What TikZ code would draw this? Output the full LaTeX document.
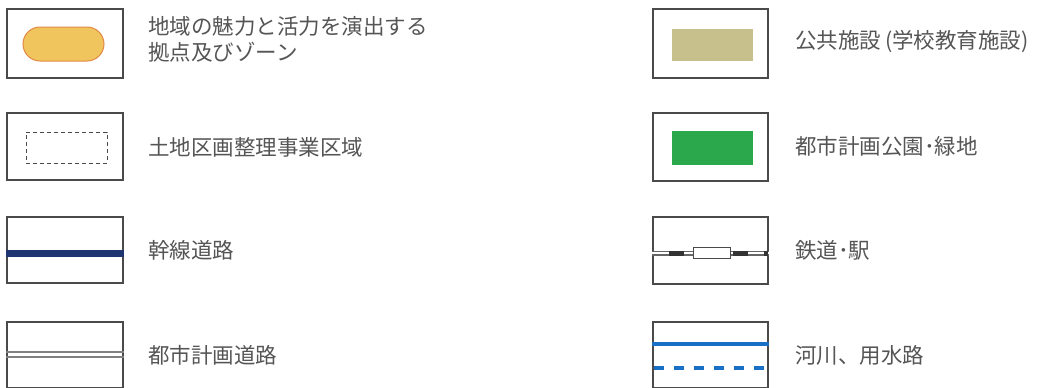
\documentclass[tikz,border=0pt]{standalone}
\usepackage{fontspec}
\setmainfont{Noto Sans CJK JP}
\definecolor{txt}{HTML}{555555}
\definecolor{frm}{HTML}{4A4A4A}
\definecolor{pillfill}{HTML}{F1C55E}
\definecolor{pilledge}{HTML}{E38A45}
\definecolor{navy}{HTML}{1F3571}
\definecolor{khaki}{HTML}{C8C08C}
\definecolor{park}{HTML}{2BA84C}
\definecolor{river}{HTML}{1A6FC6}
\definecolor{rail}{HTML}{333333}
\tikzset{
  frame/.style={draw=frm, line width=1.4pt, fill=white},
  label/.style={anchor=west, text=txt, font=\fontsize{21.5}{26}\selectfont, inner sep=0pt, align=left},
}
\begin{document}
\begin{tikzpicture}[x=1pt,y=-1pt]
\useasboundingbox (0,0) rectangle (1042,388);
\fill[white] (0,0) rectangle (1042,388);
% ---- left column
\node[frame, minimum width=116pt, minimum height=69pt, inner sep=0pt] (f1) at (65,43.5) {};
\node[draw=pilledge, line width=1pt, fill=pillfill, rounded corners=17pt, minimum width=81pt, minimum height=34pt, inner sep=0pt] (pill) at (63.5,44) {};
\node[label] (t1) at (148,39) {地域の魅力と活力を演出する\\拠点及びゾーン};

\node[frame, minimum width=116pt, minimum height=67pt, inner sep=0pt] (f2) at (65,146.5) {};
\node[draw=frm, line width=1pt, dash pattern=on 4pt off 3pt, minimum width=81pt, minimum height=31pt, inner sep=0pt] (zone) at (66.5,147.5) {};
\node[label] (t2) at (148,147) {土地区画整理事業区域};

\node[frame, minimum width=116pt, minimum height=66pt, inner sep=0pt] (f3) at (65,250) {};
\draw[navy, line width=7pt] ([yshift=-3pt]f3.west) -- ([yshift=-3pt]f3.east);
\node[label] (t3) at (148,250) {幹線道路};

\node[frame, minimum width=116pt, minimum height=66pt, inner sep=0pt] (f4) at (65,355) {};
\draw[gray, line width=1.2pt] ([yshift=3pt]f4.west) -- ([yshift=3pt]f4.east);
\draw[gray, line width=1.2pt] ([yshift=-2pt]f4.west) -- ([yshift=-2pt]f4.east);
\node[label] (t4) at (148,355) {都市計画道路};

% ---- right column
\node[frame, minimum width=115pt, minimum height=69pt, inner sep=0pt] (g1) at (710.5,43.5) {};
\node[fill=khaki, minimum width=81pt, minimum height=32pt, inner sep=0pt] (school) at (712.5,45) {};
\node[label] (u1) at (795,42) {公共施設\hspace{4pt}(学校教育施設)};

\node[frame, minimum width=115pt, minimum height=68pt, inner sep=0pt] (g2) at (710.5,147) {};
\node[fill=park, minimum width=81pt, minimum height=34pt, inner sep=0pt] (parkbox) at (712.5,148) {};
\node[label] (u2) at (795,146) {都市計画公園･緑地};

\node[frame, minimum width=115pt, minimum height=67pt, inner sep=0pt] (g3) at (710.5,250.5) {};
\coordinate (ra) at ([yshift=-2.5pt]g3.west);
\coordinate (rb) at ([yshift=-2.5pt]g3.east);
\draw[gray!80!black, line width=5pt] (ra) -- (rb);
\draw[white, line width=2.6pt] (ra) -- (rb);
\fill[rail] (669,250.5) rectangle (684,255.5);
\fill[rail] (733,250.5) rectangle (748,255.5);
\fill[rail] (764,250.5) rectangle (768,255.5);
\node[draw=frm, fill=white, line width=1pt, minimum width=37pt, minimum height=11pt, inner sep=0pt] (station) at (711.5,253) {};
\node[label] (u3) at (795,250) {鉄道･駅};

\node[frame, minimum width=115pt, minimum height=66pt, inner sep=0pt] (g4) at (710.5,355) {};
\draw[river, line width=3.5pt] ([yshift=11pt]g4.west) -- ([yshift=11pt]g4.east);
\draw[river, line width=3.5pt, dash pattern=on 10pt off 10pt, dash phase=18pt] ([yshift=-13pt]g4.west) -- ([yshift=-13pt]g4.east);
\node[label] (u4) at (795,355) {河川、用水路};
\end{tikzpicture}
\end{document}
